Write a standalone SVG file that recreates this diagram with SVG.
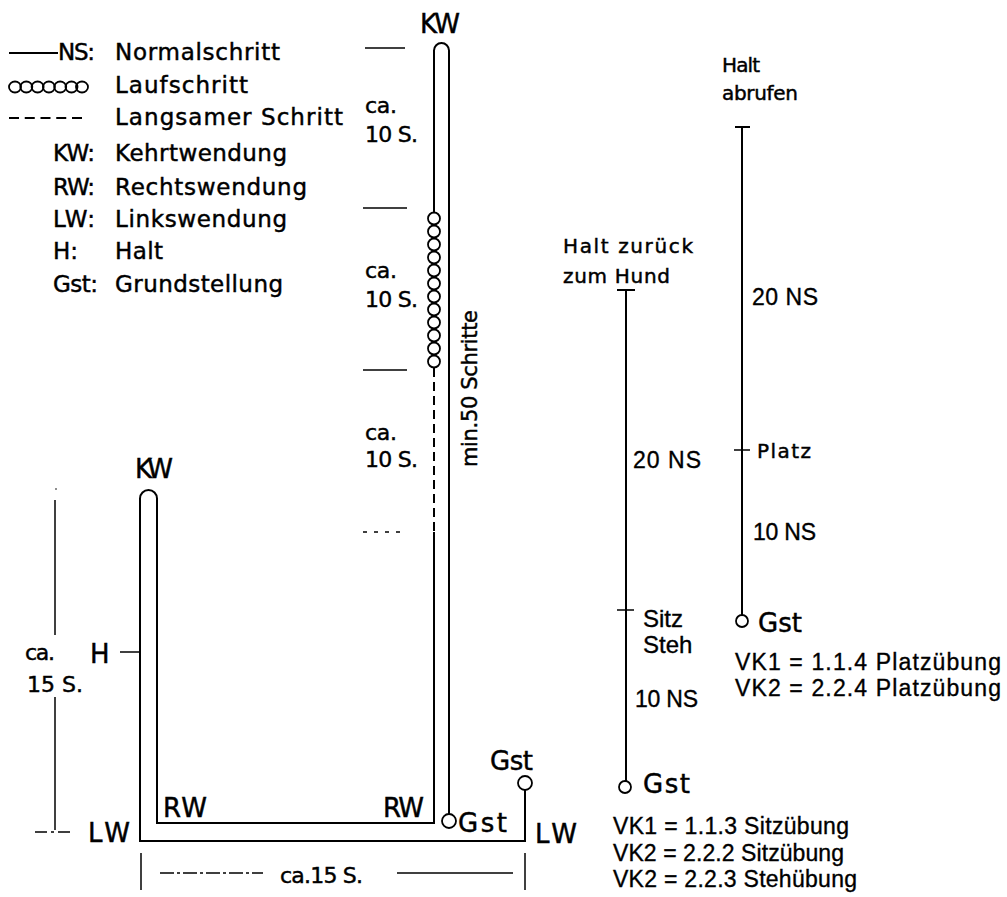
<svg xmlns="http://www.w3.org/2000/svg" width="1007" height="897" viewBox="0 0 1007 897">
<style>
.s{font-family:"DejaVu Sans","Liberation Sans",sans-serif;fill:#000;stroke:#000;stroke-width:0.45}
.a{font-family:"Liberation Sans",Arial,sans-serif;fill:#000;stroke:#000;stroke-width:0.35}
.ln{stroke:#000;stroke-width:2;fill:none}
.th{stroke:#000;stroke-width:1.5;fill:none}
.c{stroke:#000;stroke-width:1.8;fill:#fff}
.lc{stroke:#000;stroke-width:1.8;fill:none}
</style>
<rect width="1007" height="897" fill="#fff"/>
<g id="legend">
<line class="ln" x1="9" y1="53" x2="58" y2="53"/>
<g class="lc"><ellipse cx="15" cy="87" rx="6" ry="5.5"/><ellipse cx="26.3" cy="87" rx="6" ry="5.5"/><ellipse cx="37.6" cy="87" rx="6" ry="5.5"/><ellipse cx="48.9" cy="87" rx="6" ry="5.5"/><ellipse cx="60.2" cy="87" rx="6" ry="5.5"/><ellipse cx="71.5" cy="87" rx="6" ry="5.5"/><ellipse cx="82" cy="87" rx="6" ry="5.5"/></g>
<line class="ln" x1="9" y1="118" x2="82" y2="118" stroke-dasharray="10 5.75"/>
<g class="s" font-size="23">
<text x="58" y="60" textLength="37">NS:</text><text x="115" y="60" textLength="165">Normalschritt</text>
<text x="115" y="93" textLength="133">Laufschritt</text>
<text x="115" y="125" textLength="228">Langsamer Schritt</text>
<text x="53" y="161" textLength="42">KW:</text><text x="115" y="161" textLength="172">Kehrtwendung</text>
<text x="53" y="195" textLength="42">RW:</text><text x="115" y="195" textLength="192">Rechtswendung</text>
<text x="53" y="227" textLength="42">LW:</text><text x="115" y="227" textLength="172">Linkswendung</text>
<text x="53" y="259">H:</text><text x="115" y="259" textLength="48">Halt</text>
<text x="53" y="292" textLength="45">Gst:</text><text x="115" y="292" textLength="168">Grundstellung</text>
</g>
</g>
<g id="connectors">
<path class="ln" d="M449,814 L449,50.5 A7.5,7.5 0 0 0 434,50.5 L434,212"/>
<line class="ln" x1="434" y1="368" x2="434" y2="532" stroke-dasharray="9 5"/>
<path class="ln" d="M434,532 L434,823 L157,823 L157,498.5 A8.5,8.5 0 0 0 140,498.5 L140,841 L525,841 L525,790"/>
<g class="c">
<circle cx="434" cy="218.5" r="6"/><circle cx="434" cy="231.5" r="6"/><circle cx="434" cy="244.5" r="6"/><circle cx="434" cy="257.5" r="6"/><circle cx="434" cy="270.5" r="6"/><circle cx="434" cy="283.5" r="6"/><circle cx="434" cy="296.5" r="6"/><circle cx="434" cy="309.5" r="6"/><circle cx="434" cy="322.5" r="6"/><circle cx="434" cy="335.5" r="6"/><circle cx="434" cy="348.5" r="6"/><circle cx="434" cy="361.5" r="6"/>
<circle cx="449" cy="821" r="7"/>
<circle cx="525" cy="783" r="7"/>
</g>
<line class="th" x1="120" y1="652" x2="140" y2="652"/>
<line class="ln" x1="626" y1="290" x2="626" y2="781"/>
<line class="ln" x1="617" y1="290" x2="635" y2="290"/>
<line class="th" x1="617" y1="610" x2="634" y2="610"/>
<line class="ln" x1="742" y1="127" x2="742" y2="615"/>
<line class="ln" x1="735" y1="127" x2="750" y2="127"/>
<line class="th" x1="734" y1="450" x2="750" y2="450"/>
<circle class="c" cx="625" cy="787" r="6"/>
<circle class="c" cx="742" cy="621" r="6"/>
</g>
<g id="dimensions">
<line class="th" x1="365" y1="48" x2="405" y2="48"/>
<line class="th" x1="363" y1="208" x2="407" y2="208"/>
<line class="th" x1="363" y1="370" x2="407" y2="370"/>
<line class="th" x1="363" y1="532" x2="407" y2="532" stroke-dasharray="4 7"/>
<line class="th" x1="55" y1="500" x2="55" y2="635"/>
<line class="th" x1="55" y1="697" x2="55" y2="830"/>
<circle cx="56" cy="489" r="0.8" fill="#000"/>
<line class="th" x1="35" y1="832" x2="73" y2="832" stroke-dasharray="12 4 3 4"/>
<line class="th" x1="141" y1="853" x2="141" y2="890"/>
<line class="th" x1="525" y1="853" x2="525" y2="890"/>
<line class="th" x1="160" y1="873" x2="263" y2="873" stroke-dasharray="14 3 3 3"/>
<line class="th" x1="397" y1="873" x2="513" y2="873"/>
</g>
<g id="main-labels" class="s">
<g font-size="26">
<text x="420" y="33" textLength="40">KW</text>
<text x="135" y="478" textLength="38">KW</text>
<text x="90" y="663" textLength="20">H</text>
<text x="88" y="842" textLength="42">LW</text>
<text x="163" y="817" textLength="44">RW</text>
<text x="383" y="817" textLength="41">RW</text>
<text x="458" y="832" textLength="49">Gst</text>
<text x="490" y="770" textLength="43">Gst</text>
<text x="535" y="843" textLength="42">LW</text>
</g>
<g font-size="22">
<text x="365" y="113" textLength="32">ca.</text><text x="365" y="142" textLength="53">10  S.</text>
<text x="365" y="278" textLength="32">ca.</text><text x="365" y="307" textLength="53">10  S.</text>
<text x="365" y="440" textLength="32">ca.</text><text x="365" y="467" textLength="53">10  S.</text>
<text x="25" y="660" textLength="30">ca.</text><text x="27" y="692" textLength="56">15  S.</text>
<text x="280" y="883" textLength="83">ca.15  S.</text>
<text transform="translate(477,467) rotate(-90)" font-size="21" textLength="157">min.50 Schritte</text>
</g>
</g>
<g id="platz-sitz" class="s">
<g font-size="20">
<text x="563" y="253" textLength="130">Halt  zurück</text>
<text x="563" y="283" textLength="107">zum  Hund</text>
<text x="722" y="72" textLength="38">Halt</text>
<text x="722" y="100" textLength="76">abrufen</text>
<text x="757" y="458" textLength="54">Platz</text>
</g>
<g font-size="26">
<text x="643" y="793" textLength="47">Gst</text>
<text x="758" y="632" textLength="44">Gst</text>
</g>
</g>
<g id="steps" class="a" font-size="23">
<text x="633" y="468" textLength="68">20  NS</text>
<text x="635" y="707" textLength="63">10  NS</text>
<text x="752" y="305" textLength="66">20  NS</text>
<text x="753" y="540" textLength="63">10  NS</text>
<text x="643" y="627" font-size="24">Sitz</text>
<text x="643" y="653" font-size="24">Steh</text>
</g>
<g id="vk" class="a" font-size="23">
<text x="735" y="670" textLength="266">VK1 = 1.1.4 Platzübung</text>
<text x="735" y="696" textLength="266">VK2 = 2.2.4 Platzübung</text>
<text x="613" y="834" textLength="236">VK1 = 1.1.3 Sitzübung</text>
<text x="613" y="861" textLength="231">VK2 = 2.2.2 Sitzübung</text>
<text x="613" y="887" textLength="244">VK2 = 2.2.3 Stehübung</text>
</g>
</svg>
